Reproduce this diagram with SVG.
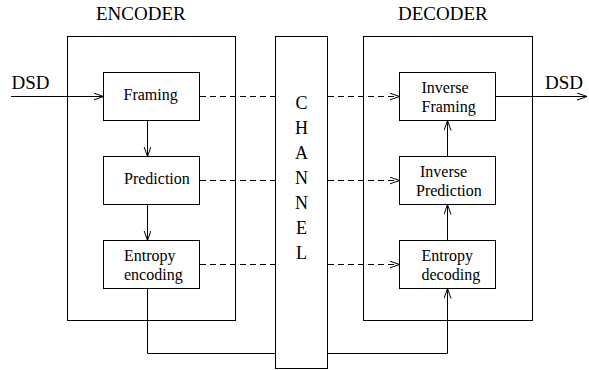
<svg xmlns="http://www.w3.org/2000/svg" width="589" height="370" viewBox="0 0 589 370">
<style>
.box{fill:#fff;stroke:#000;stroke-width:1}
.ln{fill:none;stroke:#000;stroke-width:1}
.dash{fill:none;stroke:#000;stroke-width:1;stroke-dasharray:6 4}
.t,.h,.c{font-family:"Liberation Serif","Times New Roman",serif;fill:#000}
.t{font-size:16px}
.h{font-size:19px}
.c{font-size:18px;text-anchor:middle}
</style>
<defs>
<marker id="arr" markerUnits="userSpaceOnUse" markerWidth="12" markerHeight="8" refX="10" refY="3.5" orient="auto">
<path d="M0,0 L10,3.5 L0,7" fill="none" stroke="#000" stroke-width="1"/>
</marker>
</defs>
<g id="encoder">
<rect class="box" x="67.5" y="36.5" width="168" height="284"/>
<text class="h" x="96" y="20">ENCODER</text>
</g>
<g id="decoder">
<rect class="box" x="363.5" y="36.5" width="169" height="284"/>
<text class="h" x="398" y="20">DECODER</text>
</g>
<g id="channel">
<rect class="box" x="275.5" y="36.5" width="52" height="332"/>
<text class="c" x="301.5" y="109">C</text>
<text class="c" x="301.5" y="134">H</text>
<text class="c" x="301.5" y="159">A</text>
<text class="c" x="301.5" y="184">N</text>
<text class="c" x="301.5" y="209">N</text>
<text class="c" x="301.5" y="234">E</text>
<text class="c" x="301.5" y="259">L</text>
</g>
<g id="framing">
<rect class="box" x="103.5" y="72.5" width="96" height="48"/>
<text class="t" x="123.5" y="100" font-family="Liberation Serif, serif">Framing</text>
</g>
<g id="prediction">
<rect class="box" x="103.5" y="156.5" width="96" height="48"/>
<text class="t" x="124" y="184" font-family="Liberation Serif, serif">Prediction</text>
</g>
<g id="entropy-encoding">
<rect class="box" x="103.5" y="240.5" width="96" height="48"/>
<text class="t" x="124" y="261" font-family="Liberation Serif, serif">Entropy</text>
<text class="t" x="124" y="280" font-family="Liberation Serif, serif">encoding</text>
</g>
<g id="inverse-framing">
<rect class="box" x="399.5" y="72.5" width="96" height="48"/>
<text class="t" x="421.5" y="93" font-family="Liberation Serif, serif">Inverse</text>
<text class="t" x="421.5" y="112" font-family="Liberation Serif, serif">Framing</text>
</g>
<g id="inverse-prediction">
<rect class="box" x="399.5" y="156.5" width="96" height="48"/>
<text class="t" x="420" y="177" font-family="Liberation Serif, serif">Inverse</text>
<text class="t" x="416" y="196" font-family="Liberation Serif, serif">Prediction</text>
</g>
<g id="entropy-decoding">
<rect class="box" x="399.5" y="240.5" width="96" height="48"/>
<text class="t" x="421.5" y="261" font-family="Liberation Serif, serif">Entropy</text>
<text class="t" x="421.5" y="280" font-family="Liberation Serif, serif">decoding</text>
</g>
<g id="dsd-labels">
<text class="h" x="11.5" y="89">DSD</text>
<text class="h" x="545" y="89">DSD</text>
</g>
<g id="connectors">
<line class="ln" x1="11" y1="96.5" x2="103.5" y2="96.5" marker-end="url(#arr)"/>
<line class="ln" x1="495.5" y1="96.5" x2="587" y2="96.5" marker-end="url(#arr)"/>
<line class="ln" x1="147.5" y1="120.5" x2="147.5" y2="156.5" marker-end="url(#arr)"/>
<line class="ln" x1="147.5" y1="204.5" x2="147.5" y2="240.5" marker-end="url(#arr)"/>
<line class="ln" x1="447.5" y1="156.5" x2="447.5" y2="120.5" marker-end="url(#arr)"/>
<line class="ln" x1="447.5" y1="240.5" x2="447.5" y2="204.5" marker-end="url(#arr)"/>
<polyline class="ln" points="147.5,288.5 147.5,353.5 275.5,353.5"/>
<polyline class="ln" points="327.5,353.5 447.5,353.5 447.5,288.5" marker-end="url(#arr)"/>
<line class="dash" x1="200" y1="96.5" x2="275" y2="96.5"/>
<line class="dash" x1="200" y1="180.5" x2="275" y2="180.5"/>
<line class="dash" x1="200" y1="264.5" x2="275" y2="264.5"/>
<line class="dash" x1="328" y1="96.5" x2="399.5" y2="96.5" marker-end="url(#arr)"/>
<line class="dash" x1="328" y1="180.5" x2="399.5" y2="180.5" marker-end="url(#arr)"/>
<line class="dash" x1="328" y1="264.5" x2="399.5" y2="264.5" marker-end="url(#arr)"/>
</g>
</svg>
